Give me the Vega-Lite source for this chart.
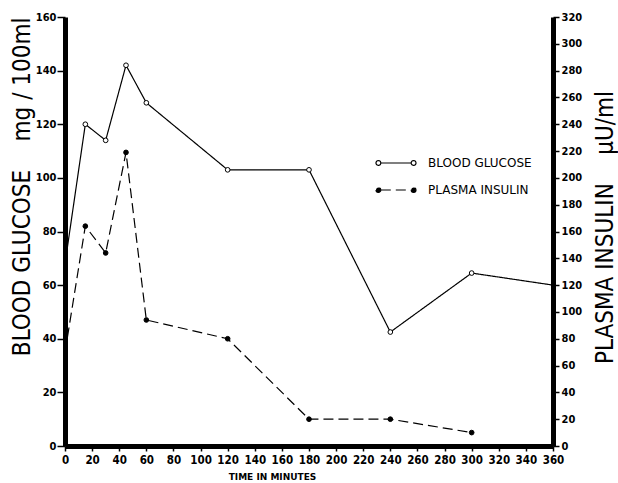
{
  "$schema": "https://vega.github.io/schema/vega-lite/v6.json",
  "width": 488,
  "height": 429,
  "autosize": {"type": "none"},
  "padding": {"left": 65, "top": 17, "right": 65, "bottom": 37},
  "background": "white",
  "config": {
    "view": {"stroke": null},
    "font": "DejaVu Sans",
    "axis": {
      "grid": false,
      "domainColor": "black",
      "domainWidth": 5,
      "tickColor": "black",
      "tickWidth": 1.5,
      "labelColor": "black",
      "labelFont": "DejaVu Sans Condensed",
      "labelFontSize": 11,
      "labelFontWeight": "bold",
      "labelOverlap": false,
      "labelFlush": false,
      "titleColor": "black",
      "titleFont": "DejaVu Sans Condensed",
      "titleFontWeight": "normal",
      "zindex": 1
    },
    "legend": {
      "orient": "none",
      "legendX": 310,
      "legendY": 125,
      "title": null,
      "symbolType": "M-1,0a0.12,0.12 0 1,0 0.24,0a0.12,0.12 0 1,0 -0.24,0M-0.76,0H0.76M0.76,0a0.12,0.12 0 1,0 0.24,0a0.12,0.12 0 1,0 -0.24,0",
      "symbolSize": 1600,
      "symbolStrokeColor": "black",
      "symbolStrokeWidth": 1.2,
      "labelFont": "DejaVu Sans",
      "labelFontSize": 12,
      "labelColor": "black",
      "labelOffset": 11,
      "rowPadding": -11
    }
  },
  "data": {
    "values": [
      {"t": 0, "v": 68, "s": "BLOOD GLUCOSE"},
      {"t": 15, "v": 120, "s": "BLOOD GLUCOSE"},
      {"t": 30, "v": 114, "s": "BLOOD GLUCOSE"},
      {"t": 45, "v": 142, "s": "BLOOD GLUCOSE"},
      {"t": 60, "v": 128, "s": "BLOOD GLUCOSE"},
      {"t": 120, "v": 103, "s": "BLOOD GLUCOSE"},
      {"t": 180, "v": 103, "s": "BLOOD GLUCOSE"},
      {"t": 240, "v": 42.5, "s": "BLOOD GLUCOSE"},
      {"t": 300, "v": 64.5, "s": "BLOOD GLUCOSE"},
      {"t": 360, "v": 60, "s": "BLOOD GLUCOSE"},
      {"t": 0, "v": 70, "s": "PLASMA INSULIN"},
      {"t": 15, "v": 164, "s": "PLASMA INSULIN"},
      {"t": 30, "v": 144, "s": "PLASMA INSULIN"},
      {"t": 45, "v": 219, "s": "PLASMA INSULIN"},
      {"t": 60, "v": 94, "s": "PLASMA INSULIN"},
      {"t": 120, "v": 80, "s": "PLASMA INSULIN"},
      {"t": 180, "v": 20, "s": "PLASMA INSULIN"},
      {"t": 240, "v": 20, "s": "PLASMA INSULIN"},
      {"t": 300, "v": 10, "s": "PLASMA INSULIN"}
    ]
  },
  "encoding": {
    "x": {
      "field": "t",
      "type": "quantitative",
      "scale": {"domain": [0, 360], "nice": false},
      "axis": {
        "values": [0, 20, 40, 60, 80, 100, 120, 140, 160, 180, 200, 220, 240, 260, 280, 300, 320, 340, 360],
        "tickSize": 5,
        "domainWidth": 5,
        "labelPadding": 3,
        "labelFontSize": 11.5,
        "title": "TIME IN MINUTES",
        "titleFont": "DejaVu Sans",
        "titleFontSize": 9,
        "titleFontWeight": "bold",
        "titlePadding": 7,
        "titleX": 207
      }
    }
  },
  "layer": [
    {
      "transform": [{"filter": "datum.s === 'BLOOD GLUCOSE'"}],
      "encoding": {
        "y": {
          "field": "v",
          "type": "quantitative",
          "scale": {"domain": [0, 160], "nice": false},
          "axis": {
            "orient": "left",
            "values": [0, 20, 40, 60, 80, 100, 120, 140, 160],
            "tickSize": 8,
            "domainWidth": 5,
            "labelPadding": 1,
            "title": "BLOOD GLUCOSE\u2003 mg / 100ml",
            "titleFontSize": 24,
            "titleAnchor": "end",
            "titlePadding": 1
          }
        }
      },
      "layer": [
        {
          "mark": {"type": "line", "color": "black", "strokeWidth": 1.2},
          "encoding": {
            "strokeDash": {
              "field": "s",
              "type": "nominal",
              "scale": {"domain": ["BLOOD GLUCOSE", "PLASMA INSULIN"], "range": [[1, 0], [10, 5]]}
            }
          }
        },
        {
          "transform": [{"filter": "datum.t > 0 && datum.t < 360"}],
          "mark": {"type": "point", "shape": "circle", "filled": true, "size": 22, "stroke": "black", "strokeWidth": 1, "opacity": 1},
          "encoding": {
            "fill": {
              "field": "s",
              "type": "nominal",
              "scale": {"domain": ["BLOOD GLUCOSE", "PLASMA INSULIN"], "range": ["white", "black"]}
            }
          }
        },
        {
          "data": {"values": [{}]},
          "mark": {"type": "text", "text": ["N.J.", "23 Y.O. \u2640"], "fontSize": 20, "lineHeight": 26, "align": "left", "baseline": "alphabetic", "color": "black", "font": "DejaVu Sans"},
          "encoding": {
            "x": {"datum": 200},
            "y": {"datum": 154.5}
          }
        }
      ]
    },
    {
      "transform": [{"filter": "datum.s === 'PLASMA INSULIN'"}],
      "encoding": {
        "y": {
          "field": "v",
          "type": "quantitative",
          "scale": {"domain": [0, 320], "nice": false},
          "axis": {
            "orient": "right",
            "values": [0, 20, 40, 60, 80, 100, 120, 140, 160, 180, 200, 220, 240, 260, 280, 300, 320],
            "tickSize": 6,
            "domainWidth": 5,
            "labelPadding": 2,
            "title": "PLASMA INSULIN\u2003 \u00b5U/ml",
            "titleFontSize": 24,
            "titleAngle": 270,
            "titleAnchor": "middle",
            "titleBaseline": "middle",
            "titleAlign": "center",
            "titleX": 52,
            "titleY": 210
          }
        }
      },
      "layer": [
        {
          "mark": {"type": "line", "color": "black", "strokeWidth": 1.2},
          "encoding": {
            "strokeDash": {
              "field": "s",
              "type": "nominal",
              "scale": {"domain": ["BLOOD GLUCOSE", "PLASMA INSULIN"], "range": [[1, 0], [10, 5]]}
            }
          }
        },
        {
          "transform": [{"filter": "datum.t > 0 && datum.t < 360"}],
          "mark": {"type": "point", "shape": "circle", "filled": true, "size": 22, "stroke": "black", "strokeWidth": 1, "opacity": 1},
          "encoding": {
            "fill": {
              "field": "s",
              "type": "nominal",
              "scale": {"domain": ["BLOOD GLUCOSE", "PLASMA INSULIN"], "range": ["white", "black"]}
            }
          }
        }
      ]
    }
  ],
  "resolve": {"scale": {"y": "independent"}}
}
